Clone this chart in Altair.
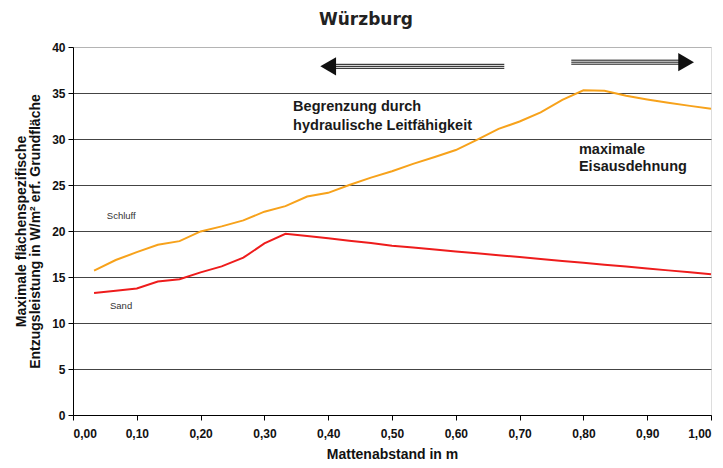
import altair as alt
import pandas as pd

# --- data ---
x_vals = [0.033, 0.067, 0.100, 0.133, 0.167, 0.200, 0.233, 0.267, 0.300, 0.333,
          0.367, 0.400, 0.433, 0.467, 0.500, 0.533, 0.567, 0.600, 0.633, 0.667,
          0.700, 0.733, 0.767, 0.800, 0.833, 0.867, 0.900, 0.933, 0.967, 1.000]
schluff = [15.7, 16.85, 17.7, 18.5, 18.9, 19.95, 20.5, 21.15, 22.1, 22.7,
           23.75, 24.15, 25.0, 25.8, 26.5, 27.3, 28.05, 28.8, 29.9, 31.1,
           31.9, 32.9, 34.25, 35.3, 35.25, 34.7, 34.3, 33.95, 33.6, 33.3]
sand = [13.25, 13.5, 13.75, 14.5, 14.75, 15.5, 16.15, 17.1, 18.65, 19.7,
        19.45, 19.2, 18.95, 18.7, 18.4, 18.2, 17.99, 17.78, 17.58, 17.37,
        17.17, 16.96, 16.75, 16.55, 16.34, 16.13, 15.92, 15.72, 15.51, 15.3]

series_names = ["Schluff", "Sand"]
series_colors = ["#F7A21B", "#EE1C1C"]

# annotation texts
ann_text = ["Begrenzung durch", "hydraulische Leitfähigkeit", "maximale", "Eisausdehnung"]
ann_x = [0.345, 0.345, 0.793, 0.793]
ann_y = [33.45, 31.45, 28.8, 26.95]

lab_text = ["Schluff", "Sand"]
lab_x = [0.053, 0.058]
lab_y = [21.6, 11.85]

# arrows: shaft start, shaft end, y, head position, head direction
arrow_x1 = [0.412, 0.781]
arrow_x2 = [0.676, 0.955]
arrow_y = [37.9, 38.35]
head_x = [0.400, 0.961]
head_shape = ["triangle-left", "triangle-right"]

rows = []
for name, vals in zip(series_names, [schluff, sand]):
    for xv, yv in zip(x_vals, vals):
        rows.append({"x": xv, "y": yv, "series": name})
df = pd.DataFrame(rows)

ann_df = pd.DataFrame({"t": ann_text, "x": ann_x, "y": ann_y})
lab_df = pd.DataFrame({"t": lab_text, "x": lab_x, "y": lab_y})
arr_df = pd.DataFrame({"x1": arrow_x1, "x2": arrow_x2, "y": arrow_y,
                       "hx": head_x, "shape": head_shape})

FONT = "Liberation Sans"

xscale = alt.Scale(domain=[0, 1], nice=False)
yscale = alt.Scale(domain=[0, 40], nice=False)

xaxis = alt.Axis(values=[0, 0.1, 0.2, 0.3, 0.4, 0.5, 0.6, 0.7, 0.8, 0.9, 1.0],
                 labelExpr="replace(format(datum.value, '.2f'), '.', ',')",
                 grid=False, domainColor="#000", tickColor="#000", tickSize=5,
                 labelFont=FONT, labelFontWeight="bold", labelFontSize=12,
                 labelColor="#111", labelPadding=8,
                 title="Mattenabstand in m", titleFont=FONT, titleFontSize=14,
                 titleFontWeight="bold", titleColor="#111", titlePadding=8)
yaxis = alt.Axis(values=[0, 5, 10, 15, 20, 25, 30, 35, 40],
                 grid=True,
                 gridColor={"condition": {"test": "datum.value == 40", "value": "#b4b4b4"},
                            "value": "#444444"},
                 gridWidth=1,
                 domainColor="#000", tickColor="#000", tickSize=5,
                 labelFont=FONT, labelFontWeight="bold", labelFontSize=12,
                 labelColor="#111", labelPadding=3,
                 title=["Maximale flächenspezifische",
                        "Entzugsleistung in W/m² erf. Grundfläche"],
                 titleFont=FONT, titleFontSize=14, titleFontWeight="bold",
                 titleColor="#111", titlePadding=9, titleLineHeight=14)

lines = alt.Chart(df).mark_line(strokeWidth=2).encode(
    x=alt.X("x:Q", scale=xscale, axis=xaxis),
    y=alt.Y("y:Q", scale=yscale, axis=yaxis),
    color=alt.Color("series:N", scale=alt.Scale(domain=series_names, range=series_colors),
                    legend=None),
)

ann = alt.Chart(ann_df).mark_text(align="left", baseline="middle", font=FONT,
                                  fontSize=14.5, fontWeight="bold", color="#1a1a1a").encode(
    x=alt.X("x:Q", scale=xscale), y=alt.Y("y:Q", scale=yscale), text="t:N")

labs = alt.Chart(lab_df).mark_text(align="left", baseline="middle", font=FONT,
                                   fontSize=9.5, color="#333").encode(
    x=alt.X("x:Q", scale=xscale), y=alt.Y("y:Q", scale=yscale), text="t:N")

shafts = []
for off in [-2, 0, 2]:
    shafts.append(alt.Chart(arr_df).mark_rule(color="#111", strokeWidth=1, yOffset=off).encode(
        x=alt.X("x1:Q", scale=xscale), x2="x2:Q", y=alt.Y("y:Q", scale=yscale)))

heads = alt.Chart(arr_df).mark_point(filled=True, color="#111", opacity=1, size=330).encode(
    x=alt.X("hx:Q", scale=xscale), y=alt.Y("y:Q", scale=yscale),
    shape=alt.Shape("shape:N", scale=None))

chart = alt.layer(lines, ann, labs, *shafts, heads).properties(
    width=638, height=368,
    autosize=alt.AutoSizeParams(type="none"),
    padding={"left": 65, "top": 39, "right": 4, "bottom": 52},
    title=alt.TitleParams("Würzburg", font="DejaVu Sans", fontSize=17,
                          fontWeight="bold", color="#222", anchor="middle",
                          dx=-26, offset=12),
).configure_view(stroke="#b4b4b4").configure(background="white")

chart.save("out.html", embed_options={"renderer": "svg", "actions": False})
